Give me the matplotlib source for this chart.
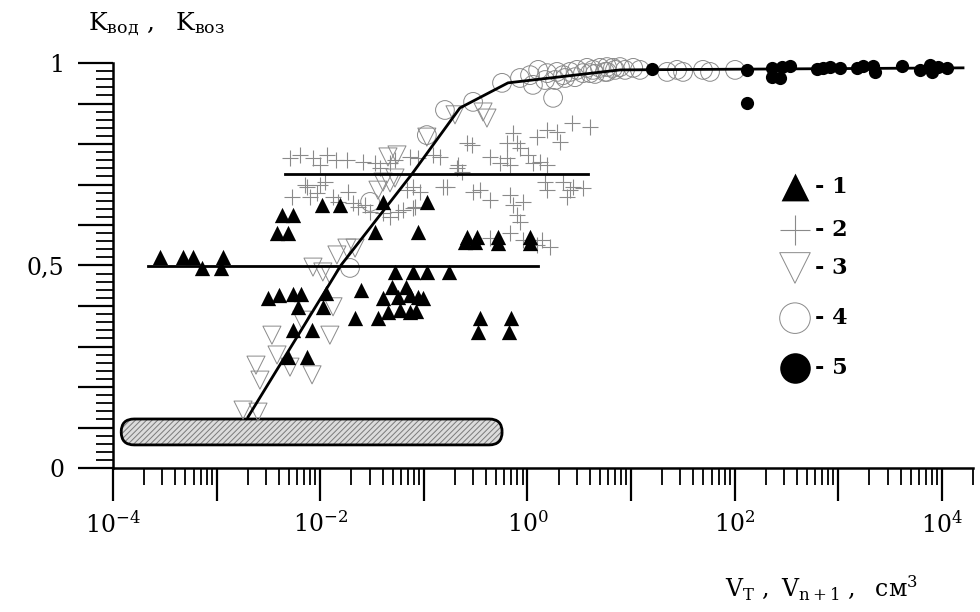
import matplotlib
matplotlib.use("Agg")
import matplotlib.pyplot as plt
from matplotlib.patches import FancyBboxPatch
from matplotlib.ticker import LogLocator, NullFormatter, FuncFormatter, MultipleLocator
import numpy as np

plt.rcParams["font.family"] = ["DejaVu Serif"]
plt.rcParams["mathtext.fontset"] = "dejavuserif"
plt.rcParams["hatch.linewidth"] = 0.7

# series 1: filled triangles
s1_x = [2.84e-4, 4.74e-4, 5.92e-4, 7.23e-4, 1.10e-3, 1.15e-3,
        4.28e-3, 5.46e-3, 3.83e-3, 4.89e-3, 1.04e-2, 1.55e-2, 4.04e-2, 0.107, 3.38e-2, 8.79e-2,
        3.13e-3, 4.00e-3, 5.46e-3, 6.53e-3, 6.11e-3, 1.14e-2, 1.06e-2, 5.46e-3, 8.34e-3, 4.89e-3, 7.47e-3,
        2.48e-2, 5.27e-2, 7.87e-2, 0.107, 0.175, 4.93e-2, 6.73e-2, 4.04e-2, 5.64e-2, 7.36e-2, 8.79e-2,
        9.82e-2, 4.51e-2, 5.89e-2, 7.36e-2, 8.41e-2, 2.17e-2, 3.61e-2,
        0.261, 0.327, 0.250, 0.312, 0.520, 0.520, 1.06, 1.06, 0.348, 0.333, 0.695, 0.664]
s1_y = [0.521, 0.521, 0.521, 0.494, 0.494, 0.521,
        0.625, 0.625, 0.580, 0.580, 0.649, 0.649, 0.657, 0.657, 0.583, 0.583,
        0.420, 0.427, 0.430, 0.430, 0.398, 0.432, 0.398, 0.341, 0.341, 0.274, 0.274,
        0.440, 0.484, 0.484, 0.484, 0.484, 0.447, 0.447, 0.420, 0.422, 0.427, 0.422,
        0.420, 0.385, 0.390, 0.385, 0.388, 0.370, 0.370,
        0.570, 0.570, 0.558, 0.558, 0.570, 0.556, 0.570, 0.556, 0.370, 0.336, 0.370, 0.336]

# series 2: crosses
s2_x = [5.11e-3, 6.38e-3, 8.52e-3, 9.95e-3, 1.16e-2, 1.42e-2, 1.81e-2, 2.59e-2, 3.38e-2, 3.78e-2,
        4.72e-2, 5.27e-2, 7.36e-2, 8.79e-2, 0.123, 0.143,
        7.13e-3, 9.95e-3, 1.11e-2, 7.47e-3, 5.34e-3, 7.97e-3, 9.31e-3, 1.33e-2, 1.85e-2, 2.07e-2,
        1.49e-2, 2.32e-2, 2.71e-2, 3.03e-2, 4.04e-2, 4.72e-2, 5.64e-2, 6.30e-2, 7.87e-2, 8.22e-2,
        6.88e-2, 7.87e-2, 9.19e-2, 0.153, 0.167, 0.209, 0.234, 0.214, 0.261, 0.292, 0.436,
        0.299, 0.348, 0.436, 0.679, 0.726, 0.907, 0.794, 0.848, 0.679, 0.436, 0.907, 1.38, 1.24, 1.65,
        0.544, 0.635, 0.679, 0.635, 0.726, 0.794, 0.848, 1.01, 1.13, 1.32, 1.55, 1.24, 1.55, 1.93,
        2.06, 2.70, 4.02,
        1.48, 1.55, 2.21, 2.58, 2.76, 3.44, 2.41]
s2_y = [0.765, 0.773, 0.765, 0.748, 0.773, 0.760, 0.760, 0.756, 0.753, 0.741,
        0.753, 0.760, 0.768, 0.765, 0.773, 0.768,
        0.699, 0.699, 0.706, 0.694, 0.669, 0.669, 0.679, 0.669, 0.681, 0.654,
        0.657, 0.644, 0.649, 0.632, 0.630, 0.620, 0.632, 0.637, 0.642, 0.644,
        0.686, 0.694, 0.681, 0.694, 0.694, 0.741, 0.731, 0.748, 0.802, 0.798, 0.768,
        0.681, 0.686, 0.662, 0.674, 0.649, 0.657, 0.625, 0.607, 0.580, 0.568, 0.563, 0.563, 0.551, 0.546,
        0.753, 0.765, 0.748, 0.802, 0.827, 0.802, 0.790, 0.773, 0.753, 0.756, 0.748, 0.817, 0.835, 0.830,
        0.805, 0.852, 0.842,
        0.706, 0.686, 0.706, 0.686, 0.694, 0.691, 0.669]

# series 3: open down triangles
s3_x = [1.80e-3, 2.51e-3, 2.40e-3, 2.62e-3, 3.42e-3, 3.83e-3, 5.11e-3, 8.34e-3, 6.67e-3, 1.24e-2,
        1.33e-2, 8.52e-3, 1.06e-2, 1.24e-2, 1.45e-2, 1.81e-2, 2.17e-2, 4.04e-2, 4.72e-2, 5.27e-2,
        4.51e-2, 5.51e-2, 0.107, 0.200, 0.373, 0.407, 3.61e-2]
s3_y = [0.143, 0.138, 0.254, 0.217, 0.328, 0.279, 0.249, 0.230, 0.365, 0.328,
        0.398, 0.496, 0.484, 0.477, 0.526, 0.543, 0.543, 0.706, 0.704, 0.716,
        0.768, 0.773, 0.817, 0.872, 0.879, 0.864, 0.686]

# series 4: open circles
s4_x = [3.03e-2, 1.94e-2, 0.107, 0.160, 0.299, 0.569, 0.848, 1.06, 1.13, 1.27, 1.55, 1.77, 1.93,
        2.21, 2.58, 3.01, 3.44, 3.76, 4.30, 5.02, 5.87, 6.70, 7.83, 10.5, 4.02, 5.87, 12.2, 22.3,
        27.8, 31.8, 49.5, 57.9, 101, 1.85, 2.31, 2.88, 4.49, 5.61, 7.01, 8.75, 1.48]
s4_y = [0.657, 0.494, 0.822, 0.884, 0.904, 0.951, 0.963, 0.970, 0.946, 0.983, 0.975, 0.914, 0.978,
        0.970, 0.978, 0.983, 0.975, 0.988, 0.983, 0.988, 0.990, 0.988, 0.990, 0.988, 0.975, 0.978,
        0.983, 0.978, 0.983, 0.978, 0.983, 0.978, 0.983, 0.958, 0.963, 0.965, 0.973, 0.978, 0.983,
        0.983, 0.958]

# series 5: filled circles
s5_x = [15.9, 132, 132, 230, 230, 274, 287, 342, 624, 713, 833, 1041, 1519, 1736, 2167, 2266,
        4129, 6160, 7692, 8042, 9190, 11220]
s5_y = [0.985, 0.983, 0.901, 0.988, 0.965, 0.963, 0.990, 0.993, 0.985, 0.988, 0.990, 0.988,
        0.988, 0.993, 0.993, 0.978, 0.993, 0.983, 0.995, 0.978, 0.990, 0.988]

# approximating curve and the two mean levels
curve_x = [2.01e-3, 1.59e-2, 7.69e-2, 0.223, 0.650, 7.83, 16020]
curve_y = [0.126, 0.501, 0.726, 0.889, 0.951, 0.983, 0.988]
level_lo = (2.2e-4, 1.26, 0.50)
level_hi = (4.57e-3, 3.85, 0.726)

# shaded band near the bottom
band_x = (1.2e-4, 0.57)
band_y = (0.057, 0.121)

legend_labels = ["- 1", "- 2", "- 3", "- 4", "- 5"]

gray = "#8a8a8a"

fig = plt.figure(figsize=(9.8, 6.12), dpi=100)
ax = fig.add_axes([113 / 980, 1 - 468 / 612, 860 / 980, 405 / 612])
ax.set_xscale("log")
ax.set_xlim(1e-4, 2e4)
ax.set_ylim(0, 1)

for side in ("top", "right"):
    ax.spines[side].set_visible(False)
for side in ("left", "bottom"):
    ax.spines[side].set_linewidth(1.8)

ax.xaxis.set_major_locator(LogLocator(base=10, numticks=100))
ax.xaxis.set_minor_locator(LogLocator(base=10, subs=np.arange(2, 10), numticks=100))
ax.xaxis.set_minor_formatter(NullFormatter())


def fmt_x(v, pos):
    e = int(round(np.log10(v)))
    if e % 2:
        return ""
    return r"$\mathregular{10^{%d}}$" % e


ax.xaxis.set_major_formatter(FuncFormatter(fmt_x))

ax.yaxis.set_major_locator(MultipleLocator(0.1))
ax.yaxis.set_minor_locator(MultipleLocator(0.02))
ylabels = {0.0: "0", 0.5: "0,5", 1.0: "1"}
ax.yaxis.set_major_formatter(FuncFormatter(lambda v, p: ylabels.get(round(v, 2), "")))

ax.tick_params(axis="x", which="major", direction="out", length=24, width=1.6, pad=7, labelsize=17)
ax.tick_params(axis="x", which="minor", direction="out", length=12, width=1.3)
ax.tick_params(axis="y", which="major", direction="out", length=25, width=1.6, pad=10, labelsize=17)
ax.tick_params(axis="y", which="minor", direction="out", length=12, width=1.3)

# hatched rounded band, built in axes fraction so the round ends stay circular
to_axes = ax.transData + ax.transAxes.inverted()
(bx0, by0), (bx1, by1) = to_axes.transform([(band_x[0], band_y[0]), (band_x[1], band_y[1])])
bbox = ax.get_window_extent()
aspect = bbox.width / bbox.height
bh = by1 - by0
style = "round,pad=0,rounding_size=%f" % (bh / 2 / aspect)
ax.add_patch(FancyBboxPatch((bx0, by0), bx1 - bx0, bh, boxstyle=style, mutation_aspect=aspect,
                            transform=ax.transAxes, facecolor="#dcdcdc", edgecolor="#7a7a7a",
                            hatch="//////", linewidth=0, zorder=1))
ax.add_patch(FancyBboxPatch((bx0, by0), bx1 - bx0, bh, boxstyle=style, mutation_aspect=aspect,
                            transform=ax.transAxes, facecolor="none", edgecolor="black",
                            linewidth=2.0, zorder=2))

ax.scatter(s4_x, s4_y, marker="o", s=13.5 ** 2, facecolors="none", edgecolors=gray,
           linewidths=0.7, clip_on=False, zorder=3)
ax.scatter(s3_x, s3_y, marker="v", s=13 ** 2, facecolors="none", edgecolors=gray,
           linewidths=0.7, clip_on=False, zorder=3)
ax.scatter(s2_x, s2_y, marker="+", s=12 ** 2, color=gray, linewidths=0.8, clip_on=False, zorder=3)

ax.plot(curve_x, curve_y, color="black", lw=2.0, zorder=4)
ax.plot(level_lo[:2], [level_lo[2]] * 2, color="black", lw=2.0, zorder=4)
ax.plot(level_hi[:2], [level_hi[2]] * 2, color="black", lw=2.0, zorder=4)

ax.scatter(s1_x, s1_y, marker="^", s=11 ** 2, color="black", linewidths=0, clip_on=False, zorder=5)
ax.scatter(s5_x, s5_y, marker="o", s=9.5 ** 2, color="black", linewidths=0, clip_on=False, zorder=5)

# legend drawn by hand at the right side
leg_y = [0.694, 0.588, 0.494, 0.370, 0.247]
leg_styles = [
    dict(marker="^", s=20 ** 2, color="black", linewidths=0),
    dict(marker="+", s=21 ** 2, color=gray, linewidths=0.8),
    dict(marker="v", s=22 ** 2, facecolors="none", edgecolors=gray, linewidths=0.7),
    dict(marker="o", s=22 ** 2, facecolors="none", edgecolors=gray, linewidths=0.7),
    dict(marker="o", s=22 ** 2, color="black", linewidths=0),
]
for yy, st, lab in zip(leg_y, leg_styles, legend_labels):
    ax.scatter([0.793], [yy], transform=ax.transAxes, clip_on=False, zorder=6, **st)
    ax.text(0.816, yy, lab, transform=ax.transAxes, ha="left", va="center",
            fontsize=16, fontweight="bold")

fig.text(88 / 980, 1 - 30 / 612,
         r"$\mathregular{K_{вод}\ ,\ \ K_{воз}}$", fontsize=18, ha="left", va="baseline")
fig.text(725 / 980, 1 - 597 / 612,
         r"$\mathregular{V_{T}\ ,\ V_{n+1}\ ,\ \ см^{3}}$", fontsize=17, ha="left", va="baseline")

fig.savefig("out.png", dpi=100)
